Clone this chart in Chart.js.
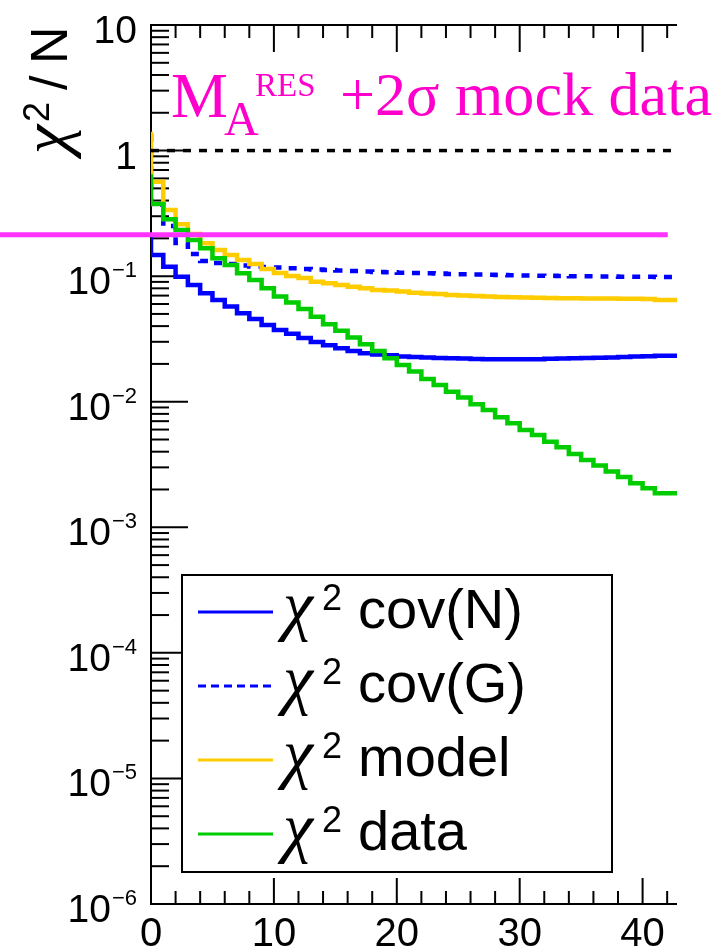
<!DOCTYPE html>
<html><head><meta charset="utf-8">
<script src="https://cdn.jsdelivr.net/npm/chart.js@4.4.1/dist/chart.umd.min.js"></script>
<style>html,body{margin:0;padding:0;background:#fff;overflow:hidden}canvas{display:block}</style>
</head><body>
<canvas id="c" width="717" height="949"></canvas>
<script>
// ---- data (bin edges, width 1) ----
const binEdges = [0,1,2,3,4,5,6,7,8,9,10,11,12,13,14,15,16,17,18,19,20,21,22,23,24,25,26,27,28,29,30,31,32,33,34,35,36,37,38,39,40,41,42,43];
const chi2CovN = [0.217,0.1475,0.1190,0.0991,0.0851,0.0731,0.0646,0.0572,0.0507,0.0456,0.0409,0.0373,0.0348,0.0322,0.0299,0.0281,0.0266,0.0254,0.0243,0.0238,0.0234,0.0229,0.0227,0.0225,0.0223,0.0222,0.0221,0.0219,0.0218,0.0218,0.0218,0.0218,0.0218,0.0220,0.0221,0.0222,0.0223,0.0224,0.0225,0.0227,0.0229,0.0230,0.0232];
const chi2CovG = [1.357,0.37,0.251,0.1837,0.150,0.1321,0.1274,0.1251,0.1217,0.1195,0.1184,0.1173,0.1156,0.1141,0.1131,0.1121,0.1110,0.1100,0.1090,0.1080,0.1074,0.1066,0.1060,0.1054,0.1049,0.1041,0.1035,0.1030,0.1024,0.1020,0.1017,0.1013,0.1009,0.1006,0.1002,0.0998,0.0996,0.0995,0.0993,0.0991,0.0989,0.0987,0.0985];
const chi2Model = [1.414,0.5654,0.3365,0.2589,0.217,0.1830,0.1616,0.1475,0.1346,0.1251,0.1141,0.1060,0.1004,0.0968,0.0904,0.0878,0.0851,0.0825,0.0800,0.0777,0.0767,0.0753,0.0739,0.0726,0.0722,0.0708,0.0702,0.0696,0.0689,0.0683,0.0679,0.0676,0.0673,0.0671,0.0668,0.0667,0.0665,0.0664,0.0663,0.0662,0.0661,0.0658,0.0646];
const chi2Data = [0.648,0.3757,0.2838,0.2332,0.1942,0.1668,0.1389,0.1228,0.1054,0.0933,0.0801,0.0687,0.0617,0.0548,0.0476,0.0414,0.0368,0.0324,0.0287,0.0254,0.0222,0.0196,0.01737,0.01519,0.01361,0.01203,0.01078,0.00955,0.00860,0.00752,0.00674,0.00596,0.00544,0.00481,0.00434,0.00384,0.00344,0.00310,0.00278,0.00251,0.00224,0.00205,0.00187];
const unityLevel = 1;
const unityX = [0, 42.8];
const mockLevel = 0.214;
const mockX = [-12.3, 42.05];
// ---- axes ----
const xRange = [0, 42.8];
const yRange = [1e-6, 10];
const xMajorTicks = [0,10,20,30,40];
const xMinorTicks = [2,4,6,8,12,14,16,18,22,24,26,28,32,34,36,38,42];
const xTickLabels = ['0','10','20','30','40'];
const yDecadeExps = [-6,-5,-4,-3,-2,-1,0,1];
const yMinorMultipliers = [2,3,4,5,6,7,8,9];
const legendNames = ['cov(N)','cov(G)','model','data'];

function hist(vals){
  const pts = vals.map((v,i)=>({x:binEdges[i], y:v}));
  pts.push({x:binEdges[vals.length], y:vals[vals.length-1]});
  return pts;
}
function hline(xs, level){ return xs.map(x=>({x, y:level})); }

const SANS = '"Liberation Sans", Arial, sans-serif';
const SERIF = '"Liberation Serif", "Times New Roman", serif';

const datasets = [
  {label:'mock', data:hline(mockX, mockLevel), borderColor:'#ff33ff', borderWidth:5, clip:false, order:0},
  {label:'unity', data:hline(unityX, unityLevel), borderColor:'#000000', borderWidth:3.5, borderDash:[8,8], order:1},
  {label:'data', data:hist(chi2Data), borderColor:'#00cc00', borderWidth:4.5, stepped:'after', order:2},
  {label:'model', data:hist(chi2Model), borderColor:'#ffcc00', borderWidth:4.5, stepped:'after', order:3},
  {label:'cov(G)', data:hist(chi2CovG), borderColor:'#0000ff', borderWidth:4.5, borderDash:[8,8], stepped:'after', order:4},
  {label:'cov(N)', data:hist(chi2CovN), borderColor:'#0000ff', borderWidth:4.5, stepped:'after', order:5}
];

function seg(ctx,x1,y1,x2,y2){ctx.beginPath();ctx.moveTo(x1,y1);ctx.lineTo(x2,y2);ctx.stroke();}

const axesPlugin = {
  id:'rootAxes',
  beforeDatasetsDraw(chart){
    const ctx=chart.ctx, xs=chart.scales.x, ys=chart.scales.y, a=chart.chartArea;
    ctx.save();
    ctx.strokeStyle='#000'; ctx.lineWidth=2; ctx.lineCap='butt';
    seg(ctx,a.left,a.top,a.left,a.bottom);
    seg(ctx,a.left-1,a.bottom,a.right,a.bottom);
    seg(ctx,a.left-1,a.top,a.right,a.top);
    // y ticks
    yDecadeExps.forEach(e=>{
      const y=ys.getPixelForValue(Math.pow(10,e));
      seg(ctx,a.left,y,a.left+37,y);
      if(e<1) yMinorMultipliers.forEach(m=>{
        const yy=ys.getPixelForValue(m*Math.pow(10,e));
        seg(ctx,a.left,yy,a.left+18,yy);
      });
    });
    // x ticks
    xMajorTicks.forEach(v=>{const x=xs.getPixelForValue(v); seg(ctx,x,a.bottom,x,a.bottom-26); seg(ctx,x,a.top,x,a.top+27);});
    xMinorTicks.forEach(v=>{const x=xs.getPixelForValue(v); seg(ctx,x,a.bottom,x,a.bottom-13); seg(ctx,x,a.top,x,a.top+13);});
    // labels
    ctx.fillStyle='#000';
    ctx.textBaseline='alphabetic';
    const right=137;
    yDecadeExps.forEach(e=>{
      const y=ys.getPixelForValue(Math.pow(10,e));
      if(e===0||e===1){
        ctx.font='39px '+SANS; ctx.textAlign='right';
        ctx.fillText(e===0?'1':'10', right, y+18);
      } else {
        const ex='\u2212'+Math.abs(e);
        ctx.font='22px '+SANS; ctx.textAlign='right';
        const we=ctx.measureText(ex).width;
        ctx.fillText(ex, right, y+1);
        ctx.font='39px '+SANS;
        ctx.fillText('10', right-we-1, y+18);
      }
    });
    ctx.font='40px '+SANS; ctx.textAlign='center';
    xMajorTicks.forEach((v,i)=>{ctx.fillText(xTickLabels[i], xs.getPixelForValue(v), 946);});
    // y title (rotated)
    ctx.save();
    ctx.translate(67,154); ctx.rotate(-Math.PI/2);
    ctx.textAlign='left';
    ctx.font='italic 66px '+SERIF; ctx.fillText('\u03c7',0,0);
    ctx.font='36px '+SANS; ctx.fillText('2',32,-18);
    ctx.font='52px '+SANS; ctx.fillText('/',64,0);
    ctx.fillText('N',90,0);
    ctx.restore();
    // main title
    ctx.fillStyle='#ff00cc'; ctx.textAlign='left';
    ctx.font='64px '+SERIF; ctx.fillText('M',171,117);
    ctx.font='48px '+SERIF; ctx.fillText('A',224,135);
    ctx.font='33px '+SERIF; ctx.fillText('RES',255,96);
    const t='+2\u03c3 mock data';
    ctx.font='60px '+SERIF;
    const w=ctx.measureText(t).width;
    const fs=60*372/w;
    ctx.font=fs.toFixed(1)+'px '+SERIF; ctx.fillText(t,340,115);
    ctx.restore();
  },
  afterDatasetsDraw(chart){
    const ctx=chart.ctx;
    ctx.save();
    ctx.fillStyle='#fff'; ctx.fillRect(182,575,430,297);
    ctx.strokeStyle='#000'; ctx.lineWidth=2; ctx.strokeRect(182,575,430,297);
    const rows=[612,686,760,834];
    legendNames.forEach((name,i)=>{
      const ds=chart.data.datasets.find(d=>d.label===name);
      const y=rows[i];
      ctx.strokeStyle=ds.borderColor; ctx.lineWidth=3;
      ctx.setLineDash(ds.borderDash?[8,5]:[]);
      seg(ctx,198,y,273,y);
      ctx.setLineDash([]);
      ctx.fillStyle='#000'; ctx.textAlign='left'; ctx.textBaseline='alphabetic';
      ctx.font='italic 68px '+SERIF; ctx.fillText('\u03c7',283,y+16);
      ctx.font='36px '+SANS; ctx.fillText('2',322,y-2);
      ctx.font='56px '+SANS; ctx.fillText(name,358,y+16);
    });
    ctx.restore();
  }
};

new Chart(document.getElementById('c'),{
  type:'line',
  data:{datasets},
  options:{
    responsive:false, animation:false, devicePixelRatio:1,
    layout:{padding:{left:151,right:40,top:25,bottom:45}},
    scales:{
      x:{type:'linear',min:xRange[0],max:xRange[1],display:false},
      y:{type:'logarithmic',min:yRange[0],max:yRange[1],display:false}
    },
    elements:{point:{radius:0},line:{tension:0,fill:false,borderCapStyle:'butt',borderJoinStyle:'miter'}},
    plugins:{legend:{display:false},tooltip:{enabled:false}}
  },
  plugins:[axesPlugin]
});
</script>
</body></html>
